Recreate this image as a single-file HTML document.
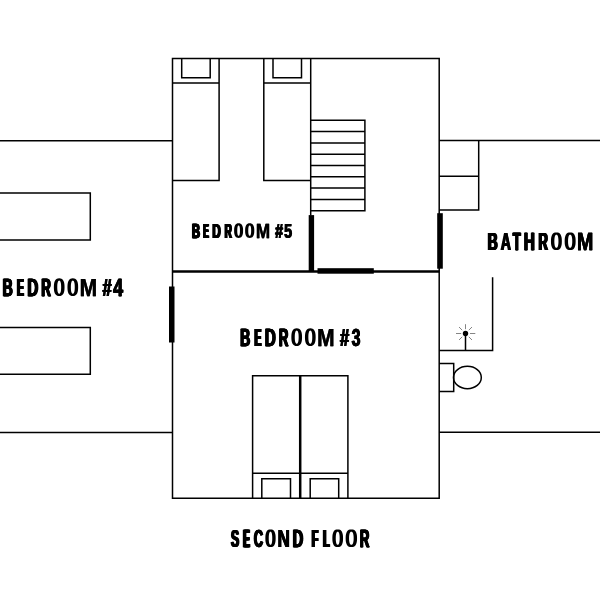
<!DOCTYPE html>
<html><head><meta charset="utf-8">
<style>
html,body{margin:0;padding:0;background:#fff;width:600px;height:600px;overflow:hidden}
svg{display:block}
text{font-family:"Liberation Sans",sans-serif;font-weight:bold}
</style></head><body>
<svg width="600" height="600" viewBox="0 0 600 600">
<rect width="600" height="600" fill="#fff"/>
<g stroke="#000" stroke-width="1.5" fill="none" stroke-linecap="butt" stroke-linejoin="miter">
<path d="M172.5 58.4H439.2V498.2H172.5Z"/>
<path d="M172.5 271.4H439.2" stroke-width="2.5"/>
<path d="M-2 140.7H172.5M-2 432.4H172.5"/>
<path d="M439.2 140.6H602M439.2 432.2H602"/>
<path d="M172.5 180.5H219.1V58.4M172.5 83.1H219.1M181.7 58.4V77.8H210.2V58.4"/>
<path d="M263.8 58.4V180.5H310.7M263.8 83.1H310.7M273 58.4V77.8H301.5V58.4"/>
<path d="M310.7 58.4V215.5"/>
<path d="M310.7 120.3H364.9V210.7H310.7M310.7 131.6H364.9M310.7 142.9H364.9M310.7 154.2H364.9M310.7 165.5H364.9M310.7 176.8H364.9M310.7 188.1H364.9M310.7 199.4H364.9"/>
<path d="M-2 193H90.3V240H-2M-2 327.5H90.3V374.3H-2"/>
<path d="M439.2 209.9H478.7V140.6M439.2 176.2H478.7"/>
<path d="M492.6 277.2V350.6H439.2M465.5 333.5V350.6"/>
<path d="M439.2 363.5H453.7V391.5H439.2"/>
<ellipse cx="467.4" cy="377.5" rx="13.9" ry="11.2"/>
<path d="M252.6 498.2V375.8H347.9V498.2M252.6 473.3H347.9M261.8 498.2V478.7H290.5V498.2M310.2 498.2V478.7H338.7V498.2"/>
<path d="M300.2 375.8V498.2" stroke-width="2.5"/>
</g>
<g fill="#000">
<rect x="308.7" y="215.1" width="5.4" height="56.3"/>
<rect x="317.5" y="268.2" width="56.3" height="5.5"/>
<rect x="437.2" y="213.2" width="5.6" height="55.5"/>
<rect x="169" y="286.5" width="5.5" height="56"/>
<circle cx="465.5" cy="333.5" r="2.7"/>
</g>
<g stroke="#777" stroke-width="0.9">
<path d="M456 333.5H461.2M470 333.5H475.3M465.5 324.2V329.2M459 327L462.2 330.2M472 327L468.8 330.2M459 340L462.2 336.8M472 340L468.8 336.8"/>
</g>
<g fill="#000" stroke="#000" stroke-width="0.25" style="will-change:transform">
<g transform="translate(239.57,345.60) scale(0.5783,1)" font-size="24.13"><text x="0.00" y="0">B</text><text x="0.56" y="0">B</text><text x="1.12" y="0">B</text><text x="1.67" y="0">B</text><text x="2.23" y="0">B</text></g>
<g transform="translate(253.64,345.60) scale(0.4075,1)" font-size="24.13"><text x="0.00" y="0">E</text><text x="0.77" y="0">E</text><text x="1.54" y="0">E</text><text x="2.31" y="0">E</text><text x="3.08" y="0">E</text><text x="3.85" y="0">E</text><text x="4.62" y="0">E</text></g>
<g transform="translate(264.29,345.60) scale(0.6271,1)" font-size="24.13"><text x="0.00" y="0">D</text><text x="0.45" y="0">D</text><text x="0.89" y="0">D</text><text x="1.34" y="0">D</text><text x="1.79" y="0">D</text></g>
<g transform="translate(278.13,345.60) scale(0.5405,1)" font-size="24.13"><text x="0.00" y="0">R</text><text x="0.53" y="0">R</text><text x="1.05" y="0">R</text><text x="1.58" y="0">R</text><text x="2.10" y="0">R</text><text x="2.63" y="0">R</text></g>
<path fill-rule="evenodd" stroke="none" d="M302.05 337.16L301.98 339.34L301.79 340.92L301.47 342.25L301.02 343.38L300.46 344.32L299.77 345.06L298.97 345.59L298.02 345.91L296.70 346.02L295.38 345.91L294.43 345.59L293.63 345.06L292.94 344.32L292.38 343.38L291.93 342.25L291.61 340.92L291.42 339.34L291.35 337.16L291.42 334.98L291.61 333.40L291.93 332.07L292.38 330.94L292.94 330.00L293.63 329.26L294.43 328.73L295.38 328.41L296.70 328.30L298.02 328.41L298.97 328.73L299.77 329.26L300.46 330.00L301.02 330.94L301.47 332.07L301.79 333.40L301.98 334.98Z M298.65 337.16L298.62 338.59L298.55 339.74L298.42 340.75L298.25 341.63L298.03 342.36L297.77 342.95L297.47 343.37L297.13 343.63L296.70 343.72L296.27 343.63L295.93 343.37L295.63 342.95L295.37 342.36L295.15 341.63L294.98 340.75L294.85 339.74L294.78 338.59L294.75 337.16L294.78 335.73L294.85 334.58L294.98 333.57L295.15 332.69L295.37 331.96L295.63 331.37L295.93 330.95L296.27 330.69L296.70 330.60L297.13 330.69L297.47 330.95L297.77 331.37L298.03 331.96L298.25 332.69L298.42 333.57L298.55 334.58L298.62 335.73Z"/>
<path fill-rule="evenodd" stroke="none" d="M315.65 337.16L315.58 339.34L315.39 340.92L315.07 342.25L314.62 343.38L314.06 344.32L313.37 345.06L312.57 345.59L311.62 345.91L310.30 346.02L308.98 345.91L308.03 345.59L307.23 345.06L306.54 344.32L305.98 343.38L305.53 342.25L305.21 340.92L305.02 339.34L304.95 337.16L305.02 334.98L305.21 333.40L305.53 332.07L305.98 330.94L306.54 330.00L307.23 329.26L308.03 328.73L308.98 328.41L310.30 328.30L311.62 328.41L312.57 328.73L313.37 329.26L314.06 330.00L314.62 330.94L315.07 332.07L315.39 333.40L315.58 334.98Z M312.25 337.16L312.22 338.59L312.15 339.74L312.02 340.75L311.85 341.63L311.63 342.36L311.37 342.95L311.07 343.37L310.73 343.63L310.30 343.72L309.87 343.63L309.53 343.37L309.23 342.95L308.97 342.36L308.75 341.63L308.58 340.75L308.45 339.74L308.38 338.59L308.35 337.16L308.38 335.73L308.45 334.58L308.58 333.57L308.75 332.69L308.97 331.96L309.23 331.37L309.53 330.95L309.87 330.69L310.30 330.60L310.73 330.69L311.07 330.95L311.37 331.37L311.63 331.96L311.85 332.69L312.02 333.57L312.15 334.58L312.22 335.73Z"/>
<g transform="translate(316.90,345.60) scale(0.8692,1)" font-size="24.13"><text x="0.00" y="0">M</text><text x="0.27" y="0">M</text></g>
<g transform="translate(339.52,345.60) scale(0.6822,1)" font-size="24.13"><text x="0.00" y="0">#</text><text x="0.49" y="0">#</text><text x="0.97" y="0">#</text><text x="1.46" y="0">#</text></g>
<g transform="translate(351.14,345.60) scale(0.6582,1)" font-size="24.13"><text x="0.00" y="0">3</text><text x="0.46" y="0">3</text><text x="0.92" y="0">3</text><text x="1.38" y="0">3</text></g>
<g transform="translate(2.07,295.60) scale(0.5783,1)" font-size="24.13"><text x="0.00" y="0">B</text><text x="0.56" y="0">B</text><text x="1.12" y="0">B</text><text x="1.67" y="0">B</text><text x="2.23" y="0">B</text></g>
<g transform="translate(16.14,295.60) scale(0.4075,1)" font-size="24.13"><text x="0.00" y="0">E</text><text x="0.77" y="0">E</text><text x="1.54" y="0">E</text><text x="2.31" y="0">E</text><text x="3.08" y="0">E</text><text x="3.85" y="0">E</text><text x="4.62" y="0">E</text></g>
<g transform="translate(26.79,295.60) scale(0.6271,1)" font-size="24.13"><text x="0.00" y="0">D</text><text x="0.45" y="0">D</text><text x="0.89" y="0">D</text><text x="1.34" y="0">D</text><text x="1.79" y="0">D</text></g>
<g transform="translate(40.63,295.60) scale(0.5405,1)" font-size="24.13"><text x="0.00" y="0">R</text><text x="0.53" y="0">R</text><text x="1.05" y="0">R</text><text x="1.58" y="0">R</text><text x="2.10" y="0">R</text><text x="2.63" y="0">R</text></g>
<path fill-rule="evenodd" stroke="none" d="M64.55 287.16L64.48 289.34L64.29 290.92L63.97 292.25L63.52 293.38L62.96 294.32L62.27 295.06L61.47 295.59L60.52 295.91L59.20 296.02L57.88 295.91L56.93 295.59L56.13 295.06L55.44 294.32L54.88 293.38L54.43 292.25L54.11 290.92L53.92 289.34L53.85 287.16L53.92 284.98L54.11 283.40L54.43 282.07L54.88 280.94L55.44 280.00L56.13 279.26L56.93 278.73L57.88 278.41L59.20 278.30L60.52 278.41L61.47 278.73L62.27 279.26L62.96 280.00L63.52 280.94L63.97 282.07L64.29 283.40L64.48 284.98Z M61.15 287.16L61.12 288.59L61.05 289.74L60.92 290.75L60.75 291.63L60.53 292.36L60.27 292.95L59.97 293.37L59.63 293.63L59.20 293.72L58.77 293.63L58.43 293.37L58.13 292.95L57.87 292.36L57.65 291.63L57.48 290.75L57.35 289.74L57.28 288.59L57.25 287.16L57.28 285.73L57.35 284.58L57.48 283.57L57.65 282.69L57.87 281.96L58.13 281.37L58.43 280.95L58.77 280.69L59.20 280.60L59.63 280.69L59.97 280.95L60.27 281.37L60.53 281.96L60.75 282.69L60.92 283.57L61.05 284.58L61.12 285.73Z"/>
<path fill-rule="evenodd" stroke="none" d="M78.15 287.16L78.08 289.34L77.89 290.92L77.57 292.25L77.12 293.38L76.56 294.32L75.87 295.06L75.07 295.59L74.12 295.91L72.80 296.02L71.48 295.91L70.53 295.59L69.73 295.06L69.04 294.32L68.48 293.38L68.03 292.25L67.71 290.92L67.52 289.34L67.45 287.16L67.52 284.98L67.71 283.40L68.03 282.07L68.48 280.94L69.04 280.00L69.73 279.26L70.53 278.73L71.48 278.41L72.80 278.30L74.12 278.41L75.07 278.73L75.87 279.26L76.56 280.00L77.12 280.94L77.57 282.07L77.89 283.40L78.08 284.98Z M74.75 287.16L74.72 288.59L74.65 289.74L74.52 290.75L74.35 291.63L74.13 292.36L73.87 292.95L73.57 293.37L73.23 293.63L72.80 293.72L72.37 293.63L72.03 293.37L71.73 292.95L71.47 292.36L71.25 291.63L71.08 290.75L70.95 289.74L70.88 288.59L70.85 287.16L70.88 285.73L70.95 284.58L71.08 283.57L71.25 282.69L71.47 281.96L71.73 281.37L72.03 280.95L72.37 280.69L72.80 280.60L73.23 280.69L73.57 280.95L73.87 281.37L74.13 281.96L74.35 282.69L74.52 283.57L74.65 284.58L74.72 285.73Z"/>
<g transform="translate(79.40,295.60) scale(0.8692,1)" font-size="24.13"><text x="0.00" y="0">M</text><text x="0.27" y="0">M</text></g>
<g transform="translate(102.02,295.60) scale(0.6822,1)" font-size="24.13"><text x="0.00" y="0">#</text><text x="0.49" y="0">#</text><text x="0.97" y="0">#</text><text x="1.46" y="0">#</text></g>
<g transform="translate(112.73,295.60) scale(0.7403,1)" font-size="24.13"><text x="0.00" y="0">4</text><text x="0.33" y="0">4</text><text x="0.66" y="0">4</text><text x="0.99" y="0">4</text></g>
<g transform="translate(487.08,249.70) scale(0.5694,1)" font-size="24.13"><text x="0.00" y="0">B</text><text x="0.58" y="0">B</text><text x="1.16" y="0">B</text><text x="1.74" y="0">B</text><text x="2.32" y="0">B</text></g>
<g transform="translate(500.35,249.70) scale(0.5769,1)" font-size="24.13"><text x="0.00" y="0">A</text><text x="0.56" y="0">A</text><text x="1.11" y="0">A</text><text x="1.67" y="0">A</text></g>
<g transform="translate(512.16,249.70) scale(0.5311,1)" font-size="24.13"><text x="0.00" y="0">T</text><text x="0.55" y="0">T</text><text x="1.10" y="0">T</text><text x="1.64" y="0">T</text><text x="2.19" y="0">T</text><text x="2.74" y="0">T</text></g>
<g transform="translate(523.29,249.70) scale(0.6256,1)" font-size="24.13"><text x="0.00" y="0">H</text><text x="0.45" y="0">H</text><text x="0.90" y="0">H</text><text x="1.35" y="0">H</text><text x="1.80" y="0">H</text></g>
<g transform="translate(537.84,249.70) scale(0.5321,1)" font-size="24.13"><text x="0.00" y="0">R</text><text x="0.55" y="0">R</text><text x="1.09" y="0">R</text><text x="1.64" y="0">R</text><text x="2.18" y="0">R</text><text x="2.73" y="0">R</text></g>
<path fill-rule="evenodd" stroke="none" d="M561.85 241.26L561.78 243.44L561.59 245.02L561.26 246.35L560.80 247.48L560.23 248.42L559.53 249.16L558.71 249.69L557.74 250.01L556.40 250.12L555.06 250.01L554.09 249.69L553.27 249.16L552.57 248.42L552.00 247.48L551.54 246.35L551.21 245.02L551.02 243.44L550.95 241.26L551.02 239.08L551.21 237.50L551.54 236.17L552.00 235.04L552.57 234.10L553.27 233.36L554.09 232.83L555.06 232.51L556.40 232.40L557.74 232.51L558.71 232.83L559.53 233.36L560.23 234.10L560.80 235.04L561.26 236.17L561.59 237.50L561.78 239.08Z M558.45 241.26L558.42 242.69L558.34 243.84L558.21 244.85L558.03 245.73L557.80 246.46L557.52 247.05L557.21 247.47L556.85 247.73L556.40 247.82L555.95 247.73L555.59 247.47L555.28 247.05L555.00 246.46L554.77 245.73L554.59 244.85L554.46 243.84L554.38 242.69L554.35 241.26L554.38 239.83L554.46 238.68L554.59 237.67L554.77 236.79L555.00 236.06L555.28 235.47L555.59 235.05L555.95 234.79L556.40 234.70L556.85 234.79L557.21 235.05L557.52 235.47L557.80 236.06L558.03 236.79L558.21 237.67L558.34 238.68L558.42 239.83Z"/>
<path fill-rule="evenodd" stroke="none" d="M575.65 241.26L575.58 243.44L575.38 245.02L575.05 246.35L574.59 247.48L574.01 248.42L573.31 249.16L572.48 249.69L571.51 250.01L570.15 250.12L568.79 250.01L567.82 249.69L566.99 249.16L566.29 248.42L565.71 247.48L565.25 246.35L564.92 245.02L564.72 243.44L564.65 241.26L564.72 239.08L564.92 237.50L565.25 236.17L565.71 235.04L566.29 234.10L566.99 233.36L567.82 232.83L568.79 232.51L570.15 232.40L571.51 232.51L572.48 232.83L573.31 233.36L574.01 234.10L574.59 235.04L575.05 236.17L575.38 237.50L575.58 239.08Z M572.25 241.26L572.22 242.69L572.14 243.84L572.00 244.85L571.82 245.73L571.58 246.46L571.30 247.05L570.98 247.47L570.61 247.73L570.15 247.82L569.69 247.73L569.32 247.47L569.00 247.05L568.72 246.46L568.48 245.73L568.30 244.85L568.16 243.84L568.08 242.69L568.05 241.26L568.08 239.83L568.16 238.68L568.30 237.67L568.48 236.79L568.72 236.06L569.00 235.47L569.32 235.05L569.69 234.79L570.15 234.70L570.61 234.79L570.98 235.05L571.30 235.47L571.58 236.06L571.82 236.79L572.00 237.67L572.14 238.68L572.22 239.83Z"/>
<g transform="translate(576.67,249.70) scale(0.8254,1)" font-size="24.13"><text x="0.00" y="0">M</text><text x="0.23" y="0">M</text><text x="0.45" y="0">M</text></g>
<g transform="translate(230.35,546.70) scale(0.5019,1)" font-size="24.13"><text x="0.00" y="0">S</text><text x="0.67" y="0">S</text><text x="1.34" y="0">S</text><text x="2.01" y="0">S</text><text x="2.68" y="0">S</text></g>
<g transform="translate(242.36,546.70) scale(0.3976,1)" font-size="24.13"><text x="0.00" y="0">E</text><text x="0.80" y="0">E</text><text x="1.61" y="0">E</text><text x="2.41" y="0">E</text><text x="3.22" y="0">E</text><text x="4.02" y="0">E</text><text x="4.83" y="0">E</text></g>
<g transform="translate(253.18,546.70) scale(0.5259,1)" font-size="24.13"><text x="0.00" y="0">C</text><text x="0.62" y="0">C</text><text x="1.24" y="0">C</text><text x="1.86" y="0">C</text><text x="2.48" y="0">C</text></g>
<path fill-rule="evenodd" stroke="none" d="M275.65 538.26L275.59 540.44L275.40 542.02L275.09 543.35L274.66 544.48L274.12 545.42L273.46 546.16L272.68 546.69L271.77 547.01L270.50 547.12L269.23 547.01L268.32 546.69L267.54 546.16L266.88 545.42L266.34 544.48L265.91 543.35L265.60 542.02L265.41 540.44L265.35 538.26L265.41 536.08L265.60 534.50L265.91 533.17L266.34 532.04L266.88 531.10L267.54 530.36L268.32 529.83L269.23 529.51L270.50 529.40L271.77 529.51L272.68 529.83L273.46 530.36L274.12 531.10L274.66 532.04L275.09 533.17L275.40 534.50L275.59 536.08Z M272.25 538.26L272.23 539.69L272.16 540.84L272.04 541.85L271.89 542.73L271.69 543.46L271.46 544.05L271.19 544.47L270.88 544.73L270.50 544.82L270.12 544.73L269.81 544.47L269.54 544.05L269.31 543.46L269.11 542.73L268.96 541.85L268.84 540.84L268.77 539.69L268.75 538.26L268.77 536.83L268.84 535.68L268.96 534.67L269.11 533.79L269.31 533.06L269.54 532.47L269.81 532.05L270.12 531.79L270.50 531.70L270.88 531.79L271.19 532.05L271.46 532.47L271.69 533.06L271.89 533.79L272.04 534.67L272.16 535.68L272.23 536.83Z"/>
<g transform="translate(277.17,546.70) scale(0.6998,1)" font-size="24.13"><text x="0.00" y="0">N</text><text x="0.37" y="0">N</text><text x="0.74" y="0">N</text><text x="1.11" y="0">N</text></g>
<g transform="translate(292.02,546.70) scale(0.6094,1)" font-size="24.13"><text x="0.00" y="0">D</text><text x="0.48" y="0">D</text><text x="0.97" y="0">D</text><text x="1.45" y="0">D</text><text x="1.94" y="0">D</text></g>
<g transform="translate(311.02,546.70) scale(0.4221,1)" font-size="24.13"><text x="0.00" y="0">F</text><text x="0.72" y="0">F</text><text x="1.45" y="0">F</text><text x="2.17" y="0">F</text><text x="2.89" y="0">F</text><text x="3.62" y="0">F</text><text x="4.34" y="0">F</text></g>
<g transform="translate(322.33,546.70) scale(0.4154,1)" font-size="24.13"><text x="0.00" y="0">L</text><text x="0.74" y="0">L</text><text x="1.49" y="0">L</text><text x="2.23" y="0">L</text><text x="2.98" y="0">L</text><text x="3.72" y="0">L</text><text x="4.47" y="0">L</text></g>
<path fill-rule="evenodd" stroke="none" d="M343.05 538.26L342.98 540.44L342.79 542.02L342.47 543.35L342.02 544.48L341.46 545.42L340.77 546.16L339.97 546.69L339.02 547.01L337.70 547.12L336.38 547.01L335.43 546.69L334.63 546.16L333.94 545.42L333.38 544.48L332.93 543.35L332.61 542.02L332.42 540.44L332.35 538.26L332.42 536.08L332.61 534.50L332.93 533.17L333.38 532.04L333.94 531.10L334.63 530.36L335.43 529.83L336.38 529.51L337.70 529.40L339.02 529.51L339.97 529.83L340.77 530.36L341.46 531.10L342.02 532.04L342.47 533.17L342.79 534.50L342.98 536.08Z M339.65 538.26L339.62 539.69L339.55 540.84L339.42 541.85L339.25 542.73L339.03 543.46L338.77 544.05L338.47 544.47L338.13 544.73L337.70 544.82L337.27 544.73L336.93 544.47L336.63 544.05L336.37 543.46L336.15 542.73L335.98 541.85L335.85 540.84L335.78 539.69L335.75 538.26L335.78 536.83L335.85 535.68L335.98 534.67L336.15 533.79L336.37 533.06L336.63 532.47L336.93 532.05L337.27 531.79L337.70 531.70L338.13 531.79L338.47 532.05L338.77 532.47L339.03 533.06L339.25 533.79L339.42 534.67L339.55 535.68L339.62 536.83Z"/>
<path fill-rule="evenodd" stroke="none" d="M357.05 538.26L356.98 540.44L356.77 542.02L356.43 543.35L355.96 544.48L355.35 545.42L354.62 546.16L353.77 546.69L352.75 547.01L351.35 547.12L349.95 547.01L348.93 546.69L348.08 546.16L347.35 545.42L346.74 544.48L346.27 543.35L345.93 542.02L345.72 540.44L345.65 538.26L345.72 536.08L345.93 534.50L346.27 533.17L346.74 532.04L347.35 531.10L348.08 530.36L348.93 529.83L349.95 529.51L351.35 529.40L352.75 529.51L353.77 529.83L354.62 530.36L355.35 531.10L355.96 532.04L356.43 533.17L356.77 534.50L356.98 536.08Z M353.65 538.26L353.62 539.69L353.53 540.84L353.38 541.85L353.17 542.73L352.92 543.46L352.61 544.05L352.25 544.47L351.85 544.73L351.35 544.82L350.85 544.73L350.45 544.47L350.09 544.05L349.78 543.46L349.53 542.73L349.32 541.85L349.17 540.84L349.08 539.69L349.05 538.26L349.08 536.83L349.17 535.68L349.32 534.67L349.53 533.79L349.78 533.06L350.09 532.47L350.45 532.05L350.85 531.79L351.35 531.70L351.85 531.79L352.25 532.05L352.61 532.47L352.92 533.06L353.17 533.79L353.38 534.67L353.53 535.68L353.62 536.83Z"/>
<g transform="translate(359.13,546.70) scale(0.5405,1)" font-size="24.13"><text x="0.00" y="0">R</text><text x="0.53" y="0">R</text><text x="1.05" y="0">R</text><text x="1.58" y="0">R</text><text x="2.10" y="0">R</text><text x="2.63" y="0">R</text></g>
<g transform="translate(191.34,237.60) scale(0.5651,1)" font-size="19.99"><text x="0.00" y="0">B</text><text x="0.49" y="0">B</text><text x="0.98" y="0">B</text><text x="1.48" y="0">B</text><text x="1.97" y="0">B</text></g>
<g transform="translate(202.44,237.60) scale(0.4153,1)" font-size="19.99"><text x="0.00" y="0">E</text><text x="0.74" y="0">E</text><text x="1.49" y="0">E</text><text x="2.23" y="0">E</text><text x="2.97" y="0">E</text><text x="3.72" y="0">E</text></g>
<g transform="translate(211.82,237.60) scale(0.5823,1)" font-size="19.99"><text x="0.00" y="0">D</text><text x="0.46" y="0">D</text><text x="0.91" y="0">D</text><text x="1.37" y="0">D</text><text x="1.82" y="0">D</text></g>
<g transform="translate(223.92,237.60) scale(0.5058,1)" font-size="19.99"><text x="0.00" y="0">R</text><text x="0.63" y="0">R</text><text x="1.27" y="0">R</text><text x="1.90" y="0">R</text><text x="2.54" y="0">R</text></g>
<path fill-rule="evenodd" stroke="none" d="M243.09 230.61L243.04 232.42L242.87 233.72L242.60 234.82L242.23 235.76L241.75 236.54L241.18 237.15L240.50 237.59L239.71 237.86L238.60 237.95L237.49 237.86L236.70 237.59L236.02 237.15L235.45 236.54L234.97 235.76L234.60 234.82L234.33 233.72L234.16 232.42L234.11 230.61L234.16 228.80L234.33 227.50L234.60 226.39L234.97 225.45L235.45 224.68L236.02 224.07L236.70 223.63L237.49 223.36L238.60 223.27L239.71 223.36L240.50 223.63L241.18 224.07L241.75 224.68L242.23 225.45L242.60 226.39L242.87 227.50L243.04 228.80Z M239.95 230.61L239.93 231.73L239.88 232.64L239.79 233.43L239.67 234.12L239.52 234.70L239.34 235.16L239.13 235.49L238.89 235.70L238.60 235.77L238.31 235.70L238.07 235.49L237.86 235.16L237.68 234.70L237.53 234.12L237.41 233.43L237.32 232.64L237.27 231.73L237.25 230.61L237.27 229.48L237.32 228.58L237.41 227.79L237.53 227.10L237.68 226.52L237.86 226.06L238.07 225.72L238.31 225.52L238.60 225.45L238.89 225.52L239.13 225.72L239.34 226.06L239.52 226.52L239.67 227.10L239.79 227.79L239.88 228.58L239.93 229.48Z"/>
<path fill-rule="evenodd" stroke="none" d="M254.29 230.61L254.23 232.42L254.07 233.72L253.79 234.82L253.41 235.76L252.92 236.54L252.34 237.15L251.65 237.59L250.83 237.86L249.70 237.95L248.57 237.86L247.75 237.59L247.06 237.15L246.48 236.54L245.99 235.76L245.61 234.82L245.33 233.72L245.17 232.42L245.11 230.61L245.17 228.80L245.33 227.50L245.61 226.39L245.99 225.45L246.48 224.68L247.06 224.07L247.75 223.63L248.57 223.36L249.70 223.27L250.83 223.36L251.65 223.63L252.34 224.07L252.92 224.68L253.41 225.45L253.79 226.39L254.07 227.50L254.23 228.80Z M251.15 230.61L251.13 231.73L251.07 232.64L250.98 233.43L250.85 234.12L250.69 234.70L250.49 235.16L250.27 235.49L250.02 235.70L249.70 235.77L249.38 235.70L249.13 235.49L248.91 235.16L248.71 234.70L248.55 234.12L248.42 233.43L248.33 232.64L248.27 231.73L248.25 230.61L248.27 229.48L248.33 228.58L248.42 227.79L248.55 227.10L248.71 226.52L248.91 226.06L249.13 225.72L249.38 225.52L249.70 225.45L250.02 225.52L250.27 225.72L250.49 226.06L250.69 226.52L250.85 227.10L250.98 227.79L251.07 228.58L251.13 229.48Z"/>
<g transform="translate(255.86,237.60) scale(0.8563,1)" font-size="19.99"><text x="0.00" y="0">M</text><text x="0.27" y="0">M</text></g>
<g transform="translate(274.76,237.60) scale(0.7108,1)" font-size="19.99"><text x="0.00" y="0">#</text><text x="0.36" y="0">#</text><text x="0.72" y="0">#</text><text x="1.08" y="0">#</text></g>
<g transform="translate(283.86,237.60) scale(0.7128,1)" font-size="19.99"><text x="0.00" y="0">5</text><text x="0.43" y="0">5</text><text x="0.86" y="0">5</text></g>
</g>
</svg>
</body></html>
